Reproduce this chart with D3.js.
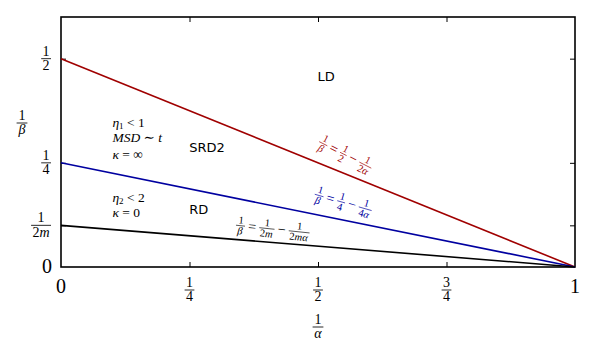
<!DOCTYPE html>
<html><head><meta charset="utf-8">
<script src="https://cdn.jsdelivr.net/npm/d3@7/dist/d3.min.js"></script>
<style>body{margin:0;background:#fff}svg{display:block}text{white-space:pre}</style>
</head><body><svg id="c" width="599" height="360"></svg>
<script>
// ---- data ----
const alphaInv = [0, 1];
const seriesNames = ["LD/SRD2 boundary", "SRD2/RD boundary", "RD lower"];
const seriesValues = [[0.5, 0], [0.25, 0], [0.1, 0]];
const seriesColors = ["#a00000", "#0000a0", "#000000"];
const xTicks = [0, 0.25, 0.5, 0.75, 1];
const xTickLabels = [["0"], ["1", "4"], ["1", "2"], ["3", "4"], ["1"]];
const yTicks = [0, 0.1, 0.25, 0.5];
const yTickLabels = [["0"], ["1", "2m"], ["1", "4"], ["1", "2"]];
const xDomain = [0, 1];
const yDomain = [0, 0.6];
const lineLabels = [
  [{f: ["1", "β"]}, {t: "="}, {f: ["1", "2"]}, {t: "−"}, {f: ["1", "2α"]}],
  [{f: ["1", "β"]}, {t: "="}, {f: ["1", "4"]}, {t: "−"}, {f: ["1", "4α"]}],
  [{f: ["1", "β"]}, {t: "="}, {f: ["1", "2m"]}, {t: "−"}, {f: ["1", "2mα"]}]
];
const lineLabelPos = [[0.553, 0.269], [0.549, 0.155], [0.412, 0.091]];
const lineLabelRot = [27, 16, 6];
const regionNames = ["LD", "SRD2", "RD"];
const regionPos = [[0.516, 0.458], [0.284, 0.288], [0.268, 0.137]];
const condLines = [
  [{t: "η"}, {sub: "1"}, {t: " < 1"}],
  [{t: "MSD"}, {t: " ∼ "}, {t: "t"}],
  [{t: "κ"}, {t: " = ∞"}],
  [{t: "η"}, {sub: "2"}, {t: " < 2"}],
  [{t: "κ"}, {t: " = 0"}]
];
const condPos = [[0.1, 0.348], [0.1, 0.31], [0.1, 0.271], [0.1, 0.168], [0.1, 0.132]];

// ---- layout ----
const M = {l: 61, r: 575, t: 17, b: 267};
const svg = d3.select("#c");
const x = d3.scaleLinear().domain(xDomain).range([M.l, M.r]);
const y = d3.scaleLinear().domain(yDomain).range([M.b, M.t]);
const SERIF = "'Liberation Serif', 'DejaVu Serif', serif";
const SANS = "'DejaVu Sans', sans-serif";
const RE_LET = /[A-Za-zα-ωΑ-Ω]/;

function styledText(sel, str, fs, color) {
  const parts = str.match(/([A-Za-zα-ωΑ-Ω]+|[^A-Za-zα-ωΑ-Ω]+)/g) || [];
  parts.forEach(p => {
    sel.append("tspan").text(p).attr("font-style", RE_LET.test(p) ? "italic" : "normal");
  });
  sel.attr("font-family", SERIF).attr("font-size", fs).attr("fill", color);
  return sel;
}

function frac(parent, cx, num, den, fs, color) {
  const g = parent.append("g").attr("transform", `translate(${cx},0)`);
  const n = styledText(g.append("text").attr("text-anchor", "middle").attr("y", -fs * 0.22), num, fs, color);
  const d = styledText(g.append("text").attr("text-anchor", "middle").attr("y", fs * 0.82), den, fs, color);
  const w = Math.max(n.node().getBBox().width, d.node().getBBox().width) + fs * 0.2;
  g.append("line").attr("x1", -w / 2).attr("x2", w / 2).attr("y1", 0).attr("y2", 0)
    .attr("stroke", color).attr("stroke-width", Math.max(0.6, fs * 0.06));
  return w;
}

function mathExpr(parent, items, fs, color) {
  const g = parent.append("g");
  let cx = 0;
  const gap = fs * 0.3;
  items.forEach(it => {
    if (it.f) {
      const sub = g.append("g");
      const w = frac(sub, 0, it.f[0], it.f[1], fs, color);
      sub.attr("transform", `translate(${cx + w / 2},0)`);
      cx += w + gap;
    } else {
      const t = g.append("text").attr("x", cx).attr("y", fs * 0.4);
      styledText(t, it.t, fs * 1.35, color);
      cx += t.node().getBBox().width + gap;
    }
  });
  const W = cx - gap;
  g.attr("transform", `translate(${-W / 2},0)`);
  return g;
}

// frame
svg.append("rect").attr("x", M.l).attr("y", M.t).attr("width", M.r - M.l).attr("height", M.b - M.t)
  .attr("fill", "none").attr("stroke", "#000").attr("stroke-width", 1.6);

// ticks (inward)
const tickStyle = g => { g.select(".domain").remove(); g.selectAll(".tick line").attr("stroke", "#000").attr("stroke-width", 1); };
svg.append("g").attr("transform", `translate(0,${M.b})`)
  .call(d3.axisBottom(x).tickValues(xTicks.slice(1, -1)).tickSize(-5).tickFormat("")).call(tickStyle);
svg.append("g").attr("transform", `translate(0,${M.t})`)
  .call(d3.axisTop(x).tickValues(xTicks.slice(1, -1)).tickSize(-5).tickFormat("")).call(tickStyle);
svg.append("g").attr("transform", `translate(${M.l},0)`)
  .call(d3.axisLeft(y).tickValues(yTicks.slice(1)).tickSize(-5).tickFormat("")).call(tickStyle);
svg.append("g").attr("transform", `translate(${M.r},0)`)
  .call(d3.axisRight(y).tickValues(yTicks.slice(1)).tickSize(-5).tickFormat("")).call(tickStyle);

// tick labels
xTicks.forEach((v, i) => {
  const lab = xTickLabels[i];
  if (lab.length === 1) {
    styledText(svg.append("text").attr("x", x(v)).attr("y", 293).attr("text-anchor", "middle"), lab[0], 20, "#000");
  } else {
    frac(svg.append("g").attr("transform", `translate(${x(v)},290)`), 0, lab[0], lab[1], 14, "#000");
  }
});
yTicks.forEach((v, i) => {
  const lab = yTickLabels[i];
  if (lab.length === 1) {
    styledText(svg.append("text").attr("x", 52).attr("y", y(v) + 6).attr("text-anchor", "end"), lab[0], 20, "#000");
  } else {
    const tmp = svg.append("g");
    const w = frac(tmp, 0, lab[0], lab[1], 14, "#000");
    tmp.attr("transform", `translate(${51 - w / 2},${y(v)})`);
  }
});

// axis titles
frac(svg.append("g").attr("transform", `translate(${x(0.5)},327)`), 0, "1", "α", 14, "#000");
frac(svg.append("g").attr("transform", `translate(22,123)`), 0, "1", "β", 14, "#000");

// lines
const line = d3.line().x((d, i) => x(alphaInv[i])).y(d => y(d));
svg.append("g").selectAll("path").data(seriesValues).join("path")
  .attr("d", d => line(d)).attr("fill", "none")
  .attr("stroke", (d, i) => seriesColors[i]).attr("stroke-width", 1.6);

// line labels
lineLabels.forEach((items, i) => {
  const g = svg.append("g").attr("transform",
    `translate(${x(lineLabelPos[i][0])},${y(lineLabelPos[i][1])}) rotate(${lineLabelRot[i]})`);
  mathExpr(g, items, 10.5, seriesColors[i]);
});

// region names
regionNames.forEach((n, i) => {
  svg.append("text").attr("x", x(regionPos[i][0])).attr("y", y(regionPos[i][1]))
    .attr("text-anchor", "middle").attr("dominant-baseline", "central")
    .attr("font-family", SANS).attr("font-size", 13).attr("fill", "#000").text(n);
});

// regime conditions (main text + separate subscript elements)
condLines.forEach((items, i) => {
  const bx = x(condPos[i][0]), by = y(condPos[i][1]) + 4.5;
  let cx = bx;
  items.forEach(it => {
    if (it.sub) {
      const s = svg.append("text").attr("x", cx).attr("y", by + 2)
        .attr("font-family", SERIF).attr("font-size", 9).attr("fill", "#000").text(it.sub);
      cx += s.node().getComputedTextLength();
    } else {
      const t = svg.append("text").attr("x", cx).attr("y", by)
        .attr("font-family", SERIF).attr("font-size", 13.5).attr("fill", "#000")
        .attr("xml:space", "preserve");
      const parts = it.t.match(/([A-Za-zα-ωΑ-Ω]+|[^A-Za-zα-ωΑ-Ω]+)/g);
      parts.forEach(p => t.append("tspan").text(p).attr("font-style", RE_LET.test(p) ? "italic" : "normal"));
      cx += t.node().getComputedTextLength();
    }
  });
});
</script></body></html>
